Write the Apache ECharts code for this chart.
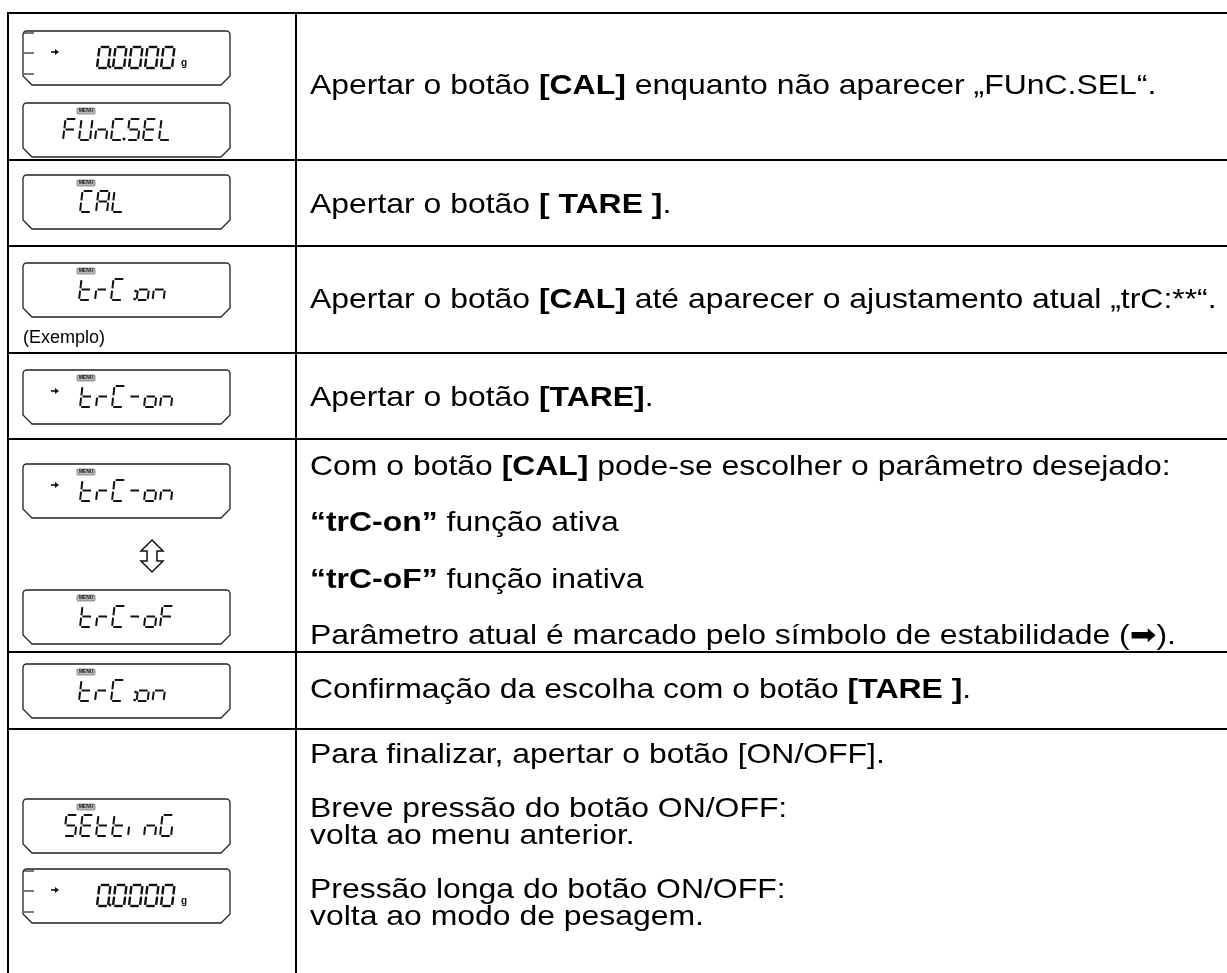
<!DOCTYPE html>
<html><head><meta charset="utf-8">
<script src="https://cdn.jsdelivr.net/npm/echarts@6/dist/echarts.min.js"></script>
<style>html,body{margin:0;padding:0;background:#fff}#c{width:1227px;height:973px}</style>
</head><body><div id="c"></div>
<script>
// ---- content ----
var rowLines = [13, 160, 246, 353, 439, 652, 729];
var displays = [
  {y: 31, text: '0.0000', stable: true, bars: true, unit: 'g', menu: false, x0: 97},
  {y: 103, text: 'FUnC.SEL', menu: true, x0: 63},
  {y: 175, text: 'CAL', menu: true, x0: 80},
  {y: 263, text: 'trC :on', menu: true, x0: 79},
  {y: 370, text: 'trC-on', menu: true, stable: true, x0: 80},
  {y: 464, text: 'trC-on', menu: true, stable: true, x0: 80},
  {y: 590, text: 'trC-oF', menu: true, x0: 80},
  {y: 664, text: 'trC :on', menu: true, x0: 79},
  {y: 799, text: 'SEttinG', menu: true, x0: 64},
  {y: 869, text: '0.0000', stable: true, bars: true, unit: 'g', menu: false, x0: 97}
];
var textLines = [
  {y: 86, t: 'Apertar o botão {b|[CAL]} enquanto não aparecer „FUnC.SEL“.'},
  {y: 205, t: 'Apertar o botão {b|[ TARE ]}.'},
  {y: 300, t: 'Apertar o botão {b|[CAL]} até aparecer o ajustamento atual „trC:**“.'},
  {y: 398, t: 'Apertar o botão {b|[TARE]}.'},
  {y: 467, t: 'Com o botão {b|[CAL]} pode-se escolher o parâmetro desejado:'},
  {y: 523, t: '{b|“trC-on”} função ativa'},
  {y: 580, t: '{b|“trC-oF”} função inativa'},
  {y: 636, t: 'Parâmetro atual é marcado pelo símbolo de estabilidade (➡).'},
  {y: 690, t: 'Confirmação da escolha com o botão {b|[TARE ]}.'},
  {y: 755, t: 'Para finalizar, apertar o botão [ON/OFF].'},
  {y: 809, t: 'Breve pressão do botão ON/OFF:'},
  {y: 836, t: 'volta ao menu anterior.'},
  {y: 890, t: 'Pressão longa do botão ON/OFF:'},
  {y: 917, t: 'volta ao modo de pesagem.'}
];
var exemploLabel = '(Exemplo)';

// ---- drawing ----
var W = 1227, H = 973;
var LEFT = 8, DIV = 296, BX = 23, BW = 207, BH = 54, TX = 310, FS = 28, SX = 1.14;
var FONT = '"Liberation Sans", Arial, "DejaVu Sans", sans-serif';
var els = [];
els.push({type: 'line', shape: {x1: LEFT, y1: rowLines[0], x2: LEFT, y2: H}, style: {stroke: '#000', lineWidth: 2}});
els.push({type: 'line', shape: {x1: DIV, y1: rowLines[0], x2: DIV, y2: H}, style: {stroke: '#000', lineWidth: 2}});
rowLines.forEach(function (y) {
  els.push({type: 'line', shape: {x1: LEFT - 1, y1: y, x2: W, y2: y}, style: {stroke: '#000', lineWidth: 2}});
});

var SEG = {
  '0': 'abcdef', 'F': 'aefg', 'U': 'bcdef', 'n': 'ceg', 'C': 'adef', 'S': 'acdfg', 'E': 'adefg',
  'L': 'def', 'A': 'abcefg', 't': 'defg', 'r': 'eg', 'o': 'cdeg', 'i': 'e', 'G': 'acdef', '-': 'g'
};
function glyph(ch, x0, yb, w, h, s, lw) {
  var segs = SEG[ch] || '';
  var m = h / 2, gp = 1.2;
  function P(x, y) { return [x0 + x + s * y, yb - y]; }
  var def = {
    a: [[gp, h], [w - gp, h]], b: [[w, h - gp], [w, m + gp]], c: [[w, m - gp], [w, gp]],
    d: [[gp, 0], [w - gp, 0]], e: [[0, gp], [0, m - gp]], f: [[0, m + gp], [0, h - gp]], g: [[gp, m], [w - gp, m]]
  };
  for (var i = 0; i < segs.length; i++) {
    var sg = def[segs[i]];
    els.push({type: 'polyline', shape: {points: [P(sg[0][0], sg[0][1]), P(sg[1][0], sg[1][1])]},
      style: {stroke: '#111', lineWidth: lw, fill: null, lineCap: 'butt'}});
  }
}
function dot(x, y, r) {
  els.push({type: 'rect', shape: {x: x - r, y: y - r, width: 2 * r, height: 2 * r}, style: {fill: '#111'}});
}
function drawDisplay(d) {
  var x = BX, y = d.y, w = BW, h = BH, r = 3, c = 9;
  els.push({type: 'polygon', shape: {points: [
    [x, y + r], [x + 1, y + 1], [x + r, y], [x + w - r, y], [x + w - 1, y + 1], [x + w, y + r],
    [x + w, y + h - c], [x + w - c, y + h], [x + c, y + h], [x, y + h - c]]},
    style: {fill: '#fff', stroke: '#222', lineWidth: 1.3}});
  var gx = d.x0;
  var yb = y + 37, gh = 21, gw = 11, pitch = 16;
  if (d.menu) {
    els.push({type: 'rect', shape: {x: 77, y: y + 5, width: 18, height: 6, r: 1}, style: {fill: '#bbb', stroke: '#555', lineWidth: 0.6}});
    els.push({type: 'text', x: 86, y: y + 8, style: {text: 'MENU', font: 'bold 5px ' + FONT, fill: '#222', align: 'center', verticalAlign: 'middle'}});
  }
  if (d.stable) {
    var ax = BX + 28, ay = yb - gh + 5;
    els.push({type: 'line', shape: {x1: ax, y1: ay, x2: ax + 5, y2: ay}, style: {stroke: '#111', lineWidth: 1.6}});
    els.push({type: 'polygon', shape: {points: [[ax + 4, ay - 3], [ax + 8, ay], [ax + 4, ay + 3]]}, style: {fill: '#111'}});
  }
  if (d.bars) {
    [y + 2, y + 22, y + 43].forEach(function (by) {
      els.push({type: 'line', shape: {x1: BX + 1, y1: by, x2: BX + 11, y2: by}, style: {stroke: '#222', lineWidth: 1.2}});
    });
  }
  var cx = gx, txt = d.text;
  for (var i = 0; i < txt.length; i++) {
    var ch = txt[i];
    if (ch === '.') { dot(cx - 3, yb - 1, 1.3); continue; }
    if (ch === ':') { dot(cx - 2, yb - 1, 1.2); dot(cx - 1, yb - 9, 1.2); continue; }
    if (ch === ' ') { cx += pitch * 0.6; continue; }
    glyph(ch, cx, yb, gw, gh, 0.12, d.bars ? 2.4 : 2);
    cx += pitch;
  }
  if (d.unit) {
    els.push({type: 'text', x: cx + 4, y: yb, style: {text: d.unit, font: 'bold 10px ' + FONT, fill: '#111', verticalAlign: 'bottom'}});
  }
}
displays.forEach(drawDisplay);
var ux = 152, uy = 540;
els.push({type: 'polygon', shape: {points: [[ux, uy], [ux + 11, uy + 11], [ux + 5, uy + 11], [ux + 5, uy + 21], [ux + 11, uy + 21], [ux, uy + 32],
  [ux - 11, uy + 21], [ux - 5, uy + 21], [ux - 5, uy + 11], [ux - 11, uy + 11]]}, style: {fill: '#fff', stroke: '#111', lineWidth: 1.5}});
els.push({type: 'text', x: BX, y: 338, style: {text: exemploLabel, font: '18px ' + FONT, fill: '#000', verticalAlign: 'middle'}});

textLines.forEach(function (l) {
  els.push({type: 'text', x: TX, y: l.y, scaleX: SX, style: {text: l.t, font: FS + 'px ' + FONT, fill: '#000', verticalAlign: 'middle',
    rich: {b: {font: 'bold ' + FS + 'px ' + FONT, fill: '#000'}}}});
});

var chart = echarts.init(document.getElementById('c'), null, {renderer: 'canvas'});
chart.setOption({backgroundColor: '#fff', animation: false, graphic: {elements: els}});
</script></body></html>
